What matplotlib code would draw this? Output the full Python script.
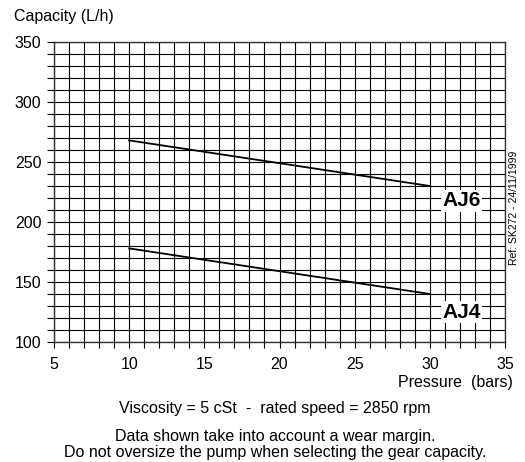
import numpy as np
import matplotlib.pyplot as plt
from matplotlib.ticker import MultipleLocator

plt.rcParams['font.family'] = ['Liberation Sans', 'DejaVu Sans']

pressure = [10, 30]
aj6 = [268, 230]
aj4 = [178, 140]
labels = ['AJ6', 'AJ4']
label_pos = [(32.1, 217.5), (32.1, 125)]

fig = plt.figure(figsize=(5.25, 4.62), dpi=100)
ax = fig.add_axes([54/525, 1-342/462, 451/525, 300/462])

ax.set_xlim(5, 35)
ax.set_ylim(100, 350)
ax.xaxis.set_major_locator(MultipleLocator(5))
ax.xaxis.set_minor_locator(MultipleLocator(1))
ax.yaxis.set_major_locator(MultipleLocator(50))
ax.yaxis.set_minor_locator(MultipleLocator(10))
ax.grid(which='both', color='black', lw=0.8)
ax.set_axisbelow(True)
for s in ax.spines.values():
    s.set_color('#333333')
    s.set_linewidth(1.0)
ax.tick_params(which='both', direction='out', length=4, width=0.8, colors='black',
               labelsize=11.5)
ax.tick_params(axis='x', which='both', length=4, pad=7)
ax.tick_params(axis='y', which='both', length=5, pad=4)

ax.plot(pressure, aj6, color='black', lw=1.3)
ax.plot(pressure, aj4, color='black', lw=1.3)
for lab, (x, y) in zip(labels, label_pos):
    ax.text(x, y, lab, fontsize=15, fontweight='bold', ha='center', va='center',
            bbox=dict(facecolor='white', edgecolor='none', pad=1.0))

fig.text(14/525, 1-16/462, 'Capacity (L/h)', fontsize=11.5, va='center', ha='left')
fig.text(513/525, 1-383/462, 'Pressure  (bars)', fontsize=11.5, va='center', ha='right')
fig.text(275/525, 1-408/462, 'Viscosity = 5 cSt  -  rated speed = 2850 rpm',
         fontsize=11.5, va='center', ha='center')
fig.text(275/525, 1-437/462, 'Data shown take into account a wear margin.',
         fontsize=11.5, va='center', ha='center')
fig.text(275/525, 1-453/462, 'Do not oversize the pump when selecting the gear capacity.',
         fontsize=11.5, va='center', ha='center')
fig.text(514/525, 1-208/462, 'Ref: SK272 - 24/11/1999', fontsize=7.5, rotation=90,
         va='center', ha='center')

fig.savefig('out.png', dpi=100)
